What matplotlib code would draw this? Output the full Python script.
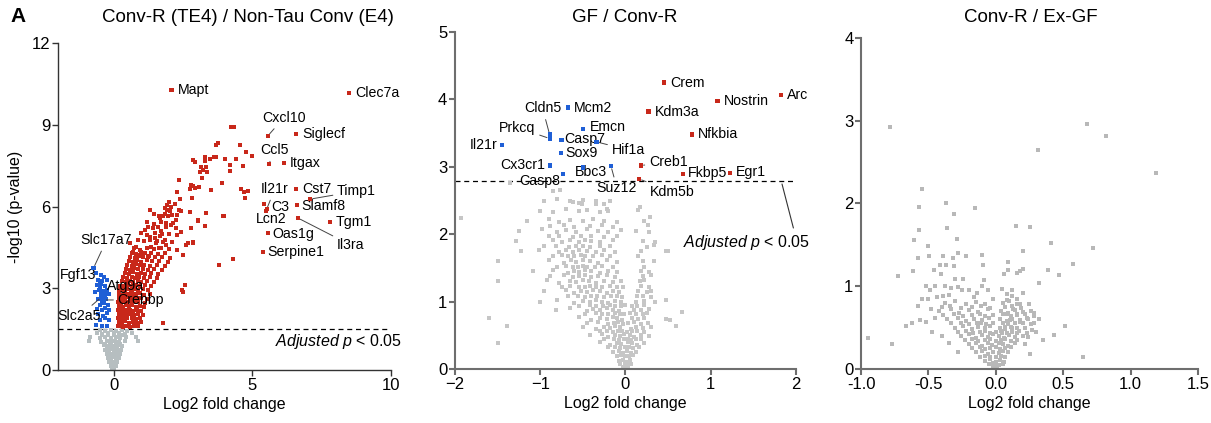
import matplotlib
matplotlib.use("Agg")
import matplotlib.pyplot as plt

plt.rcParams['font.family'] = ['Liberation Sans', 'DejaVu Sans']
plt.rcParams['mathtext.fontset'] = 'custom'
plt.rcParams['mathtext.it'] = 'Liberation Sans:italic'
plt.rcParams['mathtext.rm'] = 'Liberation Sans'

# ---------------- Panel 1 data: Conv-R (TE4) / Non-Tau Conv (E4) ----------------
p1_up_x = [4.25,4.33,3.71,3.75,4.57,4.77,5.0,2.86,2.92,3.29,3.29,3.49,3.61,3.71,4.03,4.42,4.21,4.66,3.14,3.32,
           3.22,3.38,3.13,4.2,3.19,2.36,2.78,2.86,2.92,3.08,2.74,3.5,3.91,4.61,4.7,4.83,4.75,2.27,
           2.84,2.0,1.93,2.08,2.2,1.84,1.93,2.02,2.38,2.35,2.44,1.3,1.66,1.78,1.96,2.26,2.74,3.32,3.04,3.31,3.97,
           2.8,1.12,1.24,1.42,1.6,1.72,1.9,2.08,2.26,2.44,1.3,1.48,1.66,1.78,1.54,1.9,1.36,1.72,0.58,0.82,0.94,
           0.7,0.88,1.06,1.24,2.5,2.62,2.86,3.35,3.94,3.04,3.31,2.45,2.56,2.5,1.77,3.79,4.3,2.67,2.85,
           1.45,1.65,1.85,2.1,2.3,1.2,1.45,1.7,1.9,2.15,1.0,1.2,1.5,1.75,2.0,2.3,0.9,1.1,1.3,1.55,1.85,2.1,
           0.75,0.95,1.2,1.45,1.65,2.0,2.3,
           0.65,0.82,1.0,1.15,1.35,1.6,1.85,0.6,0.78,0.92,1.08,1.28,1.5,1.75,2.05,
           0.55,0.7,0.85,1.0,1.2,1.4,1.65,1.95,0.5,0.65,0.8,0.95,1.1,1.3,1.55,1.85,
           0.45,0.6,0.75,0.9,1.05,1.25,1.45,1.75,0.4,0.55,0.7,0.85,1.0,1.15,1.35,1.6,
           0.35,0.5,0.65,0.78,0.92,1.1,1.3,1.55,0.3,0.45,0.6,0.72,0.88,1.0,1.2,1.45,
           0.22,0.38,0.52,0.68,0.8,0.95,1.15,1.35,0.2,0.35,0.5,0.62,0.75,0.9,1.05,1.25,
           0.18,0.3,0.42,0.55,0.65,0.8,0.95,1.1,1.3,0.2,0.32,0.45,0.58,0.7,0.85,1.0,1.2,
           0.15,0.27,0.4,0.5,0.62,0.78,0.9,1.15,0.2,0.3,0.45,0.55,0.68,0.8,0.95,1.1,
           0.15,0.25,0.35,0.48,0.6,0.72,0.85,1.0,0.18,0.3,0.38,0.52,0.62,0.75,0.88,1.05,
           0.15,0.28,0.42,0.5,0.65,0.8,0.95,0.2,0.3,0.4,0.55,0.7,0.85,1.0,
           0.15,0.25,0.35,0.45,0.6,0.75,0.9]
p1_up_y = [8.93,8.93,8.26,8.33,8.26,8.01,7.85,7.71,7.62,7.83,7.68,7.74,7.81,7.81,7.74,7.73,7.52,7.49,7.46,7.44,
           7.34,7.28,7.25,7.3,7.06,6.97,6.79,6.75,6.67,6.70,6.64,6.6,6.85,6.64,6.54,6.57,6.32,6.54,
           6.3,6.18,6.06,6.0,6.09,5.93,5.87,5.84,6.26,5.87,5.84,5.87,5.57,5.64,5.64,5.5,5.81,5.75,5.5,5.28,5.65,
           5.2,5.14,5.26,5.2,5.26,5.11,5.26,5.32,5.2,5.08,4.89,4.83,4.92,4.71,4.65,4.59,4.53,4.47,4.65,4.53,4.4,
           4.34,4.22,4.28,4.16,4.22,4.59,4.67,5.76,5.66,5.47,5.28,2.94,3.12,2.85,1.72,3.85,4.07,4.65,4.7,
           5.72,5.66,5.74,5.68,5.7,5.42,5.36,5.44,5.38,5.4,5.02,4.96,5.04,4.98,5.0,4.95,4.77,4.72,4.78,4.73,4.76,4.7,
           4.47,4.42,4.48,4.43,4.46,4.44,4.4,
           4.3,4.26,4.32,4.28,4.31,4.27,4.3,4.15,4.12,4.18,4.14,4.17,4.13,4.16,4.12,
           4.0,3.97,4.03,3.98,4.02,3.99,4.01,3.97,3.85,3.82,3.88,3.84,3.87,3.83,3.86,3.82,
           3.7,3.67,3.73,3.69,3.72,3.68,3.71,3.67,3.55,3.52,3.58,3.54,3.57,3.53,3.56,3.52,
           3.4,3.37,3.43,3.39,3.42,3.38,3.41,3.37,3.25,3.22,3.28,3.24,3.27,3.23,3.26,3.22,
           3.1,3.07,3.13,3.09,3.12,3.08,3.11,3.07,2.95,2.92,2.98,2.94,2.97,2.93,2.96,2.92,
           2.8,2.77,2.83,2.79,2.82,2.78,2.81,2.77,2.8,2.65,2.62,2.68,2.64,2.67,2.63,2.66,2.62,
           2.5,2.47,2.53,2.49,2.52,2.48,2.51,2.47,2.35,2.32,2.38,2.34,2.37,2.33,2.36,2.32,
           2.2,2.17,2.23,2.19,2.22,2.18,2.21,2.17,2.05,2.02,2.08,2.04,2.07,2.03,2.06,2.02,
           1.9,1.87,1.93,1.89,1.92,1.88,1.91,1.75,1.72,1.78,1.74,1.77,1.73,1.76,
           1.6,1.62,1.58,1.63,1.59,1.61,1.6]

p1_down_x = [-0.72,-0.62,-0.45,-0.35,-0.55,-0.4,-0.25,-0.6,-0.48,-0.3,-0.52,-0.38,-0.22,-0.65,-0.45,-0.3,-0.18,
             -0.55,-0.4,-0.28,-0.5,-0.35,-0.2,-0.6,-0.42,-0.3,-0.15,-0.55,-0.38,-0.22,-0.48,-0.3,-0.18,-0.62,-0.4,-0.25]
p1_down_y = [3.74,3.55,3.5,3.4,3.3,3.25,3.3,3.12,3.05,3.1,2.95,2.9,2.95,2.85,2.78,2.75,2.8,
             2.6,2.55,2.62,2.4,2.45,2.4,2.25,2.2,2.28,2.2,2.05,2.0,2.08,1.85,1.9,1.82,1.65,1.6,1.62]

p1_ns_x = [-0.5,-0.3,-0.1,0.1,0.3,0.5,-0.6,-0.4,-0.2,0.0,0.2,0.4,0.65,-0.85,-0.5,-0.3,-0.1,0.1,0.25,0.45,0.8,
           -0.9,-0.45,-0.25,-0.1,0.05,0.2,0.4,0.9,-0.35,-0.2,-0.08,0.05,0.15,0.3,-0.3,-0.15,-0.05,0.05,0.15,0.28,
           -0.25,-0.12,0.0,0.1,0.22,-0.2,-0.1,0.0,0.08,0.18,-0.15,-0.05,0.05,0.12,-0.1,0.0,0.08,-0.05,0.03,
           -0.4,-0.2,0.0,0.2,0.35,-0.3,-0.12,0.08,0.22,-0.25,-0.02,0.12,-0.18,0.02,0.18,-0.12,0.03,0.1,-0.06,0.06]
p1_ns_y = [1.45,1.43,1.46,1.44,1.45,1.43,1.35,1.33,1.36,1.34,1.35,1.33,1.36,1.2,1.18,1.21,1.19,1.2,1.18,1.21,1.2,
           1.05,1.03,1.06,1.04,1.05,1.03,1.06,1.05,0.9,0.88,0.91,0.89,0.9,0.88,0.75,0.73,0.76,0.74,0.75,0.73,
           0.6,0.58,0.61,0.59,0.6,0.45,0.43,0.46,0.44,0.45,0.3,0.28,0.31,0.29,0.15,0.13,0.16,0.05,0.04,
           1.28,1.27,1.28,1.26,1.28,0.97,0.98,0.96,0.97,0.82,0.82,0.81,0.67,0.66,0.67,0.52,0.52,0.51,0.22,0.22]

p1_genes = ['Mapt','Clec7a','Cxcl10','Siglecf','Ccl5','Itgax','Il21r','Cst7','Timp1','C3','Slamf8','Lcn2',
            'Tgm1','Il3ra','Oas1g','Serpine1','Slc17a7','Fgf13','Atg9a','Crebbp','Slc2a5']
p1_gene_x = [2.09,8.48,5.56,6.57,5.6,6.14,5.49,6.57,7.08,5.52,6.6,5.42,7.8,6.64,5.56,5.38,-0.72,-0.47,-0.29,-0.36,-0.43]
p1_gene_y = [10.27,10.17,8.59,8.66,7.55,7.6,5.83,6.64,6.27,5.91,6.05,6.09,5.43,5.58,5.03,4.33,3.74,3.16,2.86,2.57,2.68]
p1_gene_dir = ['up']*16 + ['down']*5

# ---------------- Panel 2 data: GF / Conv-R ----------------
p2_genes = ['Crem','Nostrin','Arc','Kdm3a','Nfkbia','Creb1','Fkbp5','Egr1','Kdm5b',
            'Mcm2','Cldn5','Prkcq','Emcn','Casp7','Hif1a','Il21r','Sox9','Cx3cr1','Bbc3','Suz12','Casp8']
p2_gene_x = [0.455,1.08,1.82,0.27,0.78,0.18,0.67,1.23,0.16,
             -0.67,-0.89,-0.89,-0.5,-0.75,-0.34,-1.45,-0.76,-0.89,-0.5,-0.17,-0.73]
p2_gene_y = [4.25,3.98,4.06,3.82,3.48,3.02,2.89,2.91,2.82,
             3.88,3.48,3.42,3.56,3.4,3.37,3.32,3.2,3.02,2.99,3.01,2.89]
p2_gene_dir = ['up']*9 + ['down']*12

p2_ns_x = [-0.95,-0.8,-0.62,-0.5,-0.35,-0.18,
           -1.0,-0.85,-0.7,-0.55,-0.45,-0.3,-0.2,0.15,
           -1.15,-0.9,-0.78,-0.65,-0.5,-0.38,-0.25,-0.1,0.22,
           -1.25,-0.98,-0.8,-0.7,-0.58,-0.45,-0.32,-0.2,-0.05,0.12,0.28,
           -1.28,-0.85,-0.75,-0.65,-0.55,-0.48,-0.4,-0.3,-0.15,0.2,0.35,
           -1.22,-1.02,-0.78,-0.7,-0.62,-0.55,-0.45,-0.35,-0.25,-0.12,0.18,0.5,
           -1.5,-0.9,-0.72,-0.64,-0.58,-0.5,-0.42,-0.32,-0.22,-0.1,0.2,0.33,
           -1.08,-0.85,-0.68,-0.6,-0.55,-0.48,-0.4,-0.3,-0.2,-0.1,0.18,0.28,
           -1.5,-0.92,-0.78,-0.65,-0.58,-0.5,-0.43,-0.35,-0.25,-0.15,-0.05,0.17,0.22,
           -0.95,-0.7,-0.6,-0.52,-0.45,-0.38,-0.3,-0.22,-0.15,-0.08,0.15,0.25,0.3,
           -1.0,-0.8,-0.6,-0.5,-0.42,-0.35,-0.28,-0.2,-0.12,-0.05,0.12,0.22,0.35,0.48,
           -0.82,-0.65,-0.45,-0.38,-0.3,-0.22,-0.15,-0.08,0.1,0.18,0.28,
           -1.6,-0.55,-0.4,-0.3,-0.22,-0.15,-0.1,-0.04,0.08,0.15,0.22,0.48,0.52,
           -1.39,-0.5,-0.35,-0.25,-0.18,-0.12,-0.06,0.06,0.12,0.2,0.3,0.59,
           -0.42,-0.28,-0.2,-0.12,-0.07,-0.02,0.05,0.1,0.18,0.28,
           -1.49,-0.3,-0.18,-0.1,-0.05,0.03,0.08,0.14,0.22,
           -0.15,-0.08,-0.03,0.02,0.06,0.12,
           -0.08,-0.03,0.01,0.05,-0.03,0.0,0.03,
           -1.93,0.66,0.47,0.33,-1.35,-0.85,-0.77,-0.65,-0.55,-0.51,-0.34,-0.25,-0.22,0.17,0.29,0.26]
p2_ns_y = [2.5,2.52,2.48,2.51,2.49,2.5,
           2.35,2.33,2.37,2.34,2.36,2.33,2.35,2.36,
           2.2,2.22,2.18,2.21,2.19,2.22,2.2,2.18,2.2,
           2.05,2.07,2.03,2.06,2.04,2.07,2.05,2.03,2.06,2.05,2.04,
           1.9,1.92,1.88,1.91,1.89,1.92,1.9,1.88,1.91,1.9,1.89,
           1.75,1.77,1.73,1.76,1.74,1.77,1.75,1.73,1.76,1.74,1.75,1.75,
           1.6,1.62,1.58,1.61,1.59,1.62,1.6,1.58,1.61,1.59,1.6,1.6,
           1.45,1.47,1.43,1.46,1.44,1.47,1.45,1.43,1.46,1.44,1.45,1.44,
           1.3,1.32,1.28,1.31,1.29,1.32,1.3,1.28,1.31,1.29,1.3,1.3,1.32,
           1.15,1.17,1.13,1.16,1.14,1.17,1.15,1.13,1.16,1.14,1.15,1.14,1.16,
           1.0,1.02,0.98,1.01,0.99,1.02,1.0,0.98,1.01,0.99,1.0,1.01,0.99,1.02,
           0.88,0.9,0.86,0.89,0.87,0.9,0.88,0.86,0.88,0.87,0.89,
           0.75,0.77,0.73,0.76,0.74,0.77,0.75,0.73,0.76,0.74,0.75,0.74,0.72,
           0.64,0.62,0.6,0.63,0.61,0.64,0.62,0.6,0.63,0.61,0.62,0.64,
           0.5,0.52,0.48,0.51,0.49,0.52,0.5,0.48,0.51,0.49,
           0.38,0.4,0.36,0.39,0.37,0.4,0.38,0.36,0.39,
           0.25,0.27,0.23,0.26,0.24,0.25,
           0.12,0.14,0.1,0.13,0.03,0.04,0.03,
           2.24,0.84,1.75,1.84,2.76,2.64,2.66,2.5,2.47,2.45,2.45,2.45,2.38,2.41,2.25,2.13]

# denser core of the GF / Conv-R cloud
p2_core_x = [-0.88,-0.72,-0.6,-0.42,-0.28,-0.15,
             -0.9,-0.78,-0.62,-0.52,-0.4,-0.25,-0.1,
             -0.95,-0.82,-0.66,-0.58,-0.5,-0.42,-0.3,-0.18,0.25,
             -0.85,-0.75,-0.67,-0.6,-0.52,-0.47,-0.38,-0.28,-0.18,0.15,
             -0.8,-0.7,-0.62,-0.56,-0.5,-0.45,-0.36,-0.27,-0.15,0.22,
             -0.88,-0.72,-0.62,-0.55,-0.47,-0.4,-0.32,-0.22,-0.12,0.2,0.3,
             -0.75,-0.65,-0.55,-0.48,-0.42,-0.34,-0.27,-0.18,-0.1,-0.03,0.18,0.27,
             -0.68,-0.56,-0.47,-0.4,-0.33,-0.25,-0.17,-0.1,-0.04,0.14,0.2,0.3,
             -0.55,-0.42,-0.34,-0.26,-0.18,-0.12,-0.05,0.0,0.08,0.14,0.22,
             -0.48,-0.35,-0.27,-0.2,-0.12,-0.07,-0.02,0.05,0.12,0.2,0.25,
             -0.45,-0.32,-0.2,-0.14,-0.09,-0.03,0.03,0.1,0.18,0.26,
             -0.3,-0.22,-0.15,-0.09,-0.04,0.02,0.08,0.14,0.22,
             -0.25,-0.14,-0.08,-0.02,0.03,0.06,0.12,0.18,
             -0.2,-0.12,-0.06,-0.01,0.04,0.09,0.16,
             -0.1,-0.05,0.0,0.04,0.09,
             -0.06,-0.01,0.02,0.06]
p2_core_y = [2.12,2.13,2.11,2.12,2.13,2.11,
             1.97,1.98,1.96,1.97,1.98,1.96,1.97,
             1.82,1.83,1.81,1.82,1.83,1.81,1.82,1.83,1.81,
             1.68,1.69,1.67,1.68,1.69,1.67,1.68,1.69,1.67,1.68,
             1.52,1.53,1.51,1.52,1.53,1.51,1.52,1.53,1.51,1.52,
             1.38,1.39,1.37,1.38,1.39,1.37,1.38,1.39,1.37,1.38,1.39,
             1.22,1.23,1.21,1.22,1.23,1.21,1.22,1.23,1.21,1.22,1.23,1.21,
             1.08,1.09,1.07,1.08,1.09,1.07,1.08,1.09,1.07,1.08,1.09,1.07,
             0.94,0.95,0.93,0.94,0.95,0.93,0.94,0.95,0.93,0.94,0.95,
             0.82,0.83,0.81,0.82,0.83,0.81,0.82,0.83,0.81,0.82,0.83,
             0.68,0.69,0.67,0.68,0.69,0.67,0.68,0.69,0.67,0.68,
             0.56,0.57,0.55,0.56,0.57,0.55,0.56,0.57,0.55,
             0.44,0.45,0.43,0.44,0.45,0.43,0.44,0.45,
             0.32,0.33,0.31,0.32,0.33,0.31,0.32,
             0.2,0.21,0.19,0.2,0.21,
             0.08,0.09,0.07,0.08]

# ---------------- Panel 3 data: Conv-R / Ex-GF ----------------
p3_x = [-0.785,0.674,0.82,0.31,1.19,-0.545,-0.372,-0.57,-0.154,-0.31,-0.57,-0.36,0.147,0.25,-0.61,-0.29,-0.5,
        0.41,0.72,0.2,-0.278,-0.224,-0.105,-0.575,-0.496,-0.394,-0.369,-0.414,-0.456,-0.315,-0.31,-0.092,0.088,
        0.088,0.18,0.2,0.155,0.39,0.57,0.47,-0.727,-0.616,0.323,0.06,0.245,0.28,0.32,0.27,0.24,0.43,0.51,0.65,
        -0.95,-0.77,-0.67,-0.58,-0.56,-0.52,
        -0.52,-0.49,-0.5,-0.45,-0.44,-0.38,-0.39,-0.41,-0.30,-0.28,-0.24,-0.25,-0.10,-0.09,-0.14,-0.16,
        0.044,0.081,0.118,0.081,0.155,0.18,0.13,0.056,0.093,0.155,0.105,0.18,0.068,0.118,0.044,0.155,
        -0.38,-0.3,-0.22,-0.15,-0.08,0.05,0.1,0.16,
        -0.42,-0.33,-0.27,-0.2,-0.13,-0.06,0.04,0.09,0.14,0.2,0.26,
        -0.36,-0.28,-0.22,-0.16,-0.1,-0.05,0.03,0.08,0.12,0.18,0.24,
        -0.3,-0.24,-0.18,-0.13,-0.08,-0.04,0.03,0.07,0.11,0.16,0.22,
        -0.26,-0.2,-0.15,-0.1,-0.06,-0.02,0.02,0.06,0.1,0.14,0.2,
        -0.2,-0.15,-0.1,-0.06,-0.03,0.02,0.05,0.09,0.14,
        -0.15,-0.1,-0.06,-0.02,0.02,0.05,0.09,
        -0.08,-0.04,0.0,0.03,0.06,-0.02,0.01]
p3_y = [2.92,2.96,2.81,2.65,2.37,2.17,2.01,1.96,1.94,1.87,1.68,1.7,1.73,1.72,1.56,1.57,1.49,
        1.52,1.46,1.42,1.40,1.36,1.38,1.34,1.36,1.37,1.26,1.26,1.2,1.34,1.24,1.26,1.29,
        1.2,1.19,1.21,1.16,1.2,1.27,1.13,1.12,1.18,1.04,1.15,0.78,0.68,0.6,0.47,0.39,0.41,0.52,0.14,
        0.38,0.3,0.52,0.76,0.59,0.57,
        1.0,0.95,0.84,1.0,0.87,1.0,0.88,1.15,1.09,0.99,1.09,0.95,1.0,1.07,0.92,0.87,
        0.97,0.91,0.95,0.83,0.85,0.79,0.73,0.67,0.67,0.67,0.59,0.57,0.51,0.49,0.43,0.43,
        0.8,0.82,0.78,0.81,0.79,0.8,0.82,0.78,
        0.7,0.72,0.68,0.71,0.69,0.72,0.7,0.68,0.71,0.69,0.7,
        0.6,0.62,0.58,0.61,0.59,0.62,0.6,0.58,0.61,0.59,0.6,
        0.5,0.52,0.48,0.51,0.49,0.52,0.5,0.48,0.51,0.49,0.5,
        0.4,0.42,0.38,0.41,0.39,0.42,0.4,0.38,0.41,0.39,0.4,
        0.3,0.32,0.28,0.31,0.29,0.32,0.3,0.28,0.31,
        0.2,0.22,0.18,0.21,0.19,0.22,0.2,
        0.1,0.12,0.08,0.11,0.09,0.03,0.04]

# denser core of the Conv-R / Ex-GF cloud
p3_core_x = [-0.4,-0.34,-0.26,-0.18,-0.11,-0.04,0.07,0.12,0.19,
             -0.39,-0.31,-0.24,-0.18,-0.12,-0.08,-0.02,0.06,0.11,0.16,0.22,0.28,
             -0.33,-0.26,-0.2,-0.14,-0.11,-0.07,-0.02,0.05,0.09,0.14,0.2,0.26,
             -0.28,-0.22,-0.17,-0.12,-0.08,-0.04,0.0,0.04,0.08,0.12,0.17,0.23,
             -0.23,-0.18,-0.13,-0.08,-0.04,0.0,0.04,0.07,0.11,0.16,
             -0.18,-0.12,-0.08,-0.04,0.0,0.03,0.07,0.11,
             -0.12,-0.08,-0.04,0.0,0.04,0.07,
             -0.05,-0.02,0.02,0.05,
             -0.62,-0.48,-0.45,-0.35,-0.33,-0.2,-0.06,-0.02,0.12,0.2,0.23,0.28,0.3,0.35,0.22,0.25,
             -0.55,-0.47,-0.4,-0.35,-0.28]
p3_core_y = [0.75,0.76,0.74,0.75,0.76,0.74,0.75,0.76,0.74,
             0.65,0.66,0.64,0.65,0.66,0.64,0.65,0.66,0.64,0.65,0.66,0.64,
             0.55,0.56,0.54,0.55,0.56,0.54,0.55,0.56,0.54,0.55,0.56,0.54,
             0.45,0.46,0.44,0.45,0.46,0.44,0.45,0.46,0.44,0.45,0.46,0.44,
             0.35,0.36,0.34,0.35,0.36,0.34,0.35,0.36,0.34,0.35,
             0.25,0.26,0.24,0.25,0.26,0.24,0.25,0.26,
             0.15,0.16,0.14,0.15,0.16,0.14,
             0.06,0.07,0.05,0.06,
             0.55,0.72,0.62,0.9,0.98,0.95,0.95,0.85,0.88,0.92,0.62,0.55,0.45,0.35,0.3,0.18,
             0.85,0.45,0.4,0.32,0.2]

p1_threshold = 1.5
p2_threshold = 2.79

# label placement (offsets in pixels from the point, ha, draw leader line)
p1_label_layout = {
    'Mapt': (6, 0, 'left', False), 'Clec7a': (6, 0, 'left', False),
    'Cxcl10': (-6, 18, 'left', True), 'Siglecf': (6, 0, 'left', False),
    'Ccl5': (-9, 14, 'left', True), 'Itgax': (6, 0, 'left', False),
    'Il21r': (-5, 22, 'left', True), 'Cst7': (6, 0, 'left', False),
    'Timp1': (27, 8, 'left', True), 'C3': (5, 2, 'left', False),
    'Slamf8': (5, -1, 'left', False), 'Lcn2': (-8, -15, 'left', False),
    'Tgm1': (6, 0, 'left', False), 'Il3ra': (39, -27, 'left', True),
    'Oas1g': (5, -1, 'left', False), 'Serpine1': (5, 0, 'left', False),
    'Slc17a7': (13, 28, 'center', True), 'Fgf13': (-4, 9, 'right', True),
    'Atg9a': (2, 6, 'left', False), 'Crebbp': (14, 0, 'left', True),
    'Slc2a5': (-22, -19, 'center', True),
}
p2_label_layout = {
    'Crem': (6, 0, 'left', False), 'Nostrin': (6, 0, 'left', False), 'Arc': (6, 0, 'left', False),
    'Kdm3a': (6, 0, 'left', False), 'Nfkbia': (6, 0, 'left', False), 'Creb1': (8, 3, 'left', True),
    'Fkbp5': (5, 1, 'left', False), 'Egr1': (6, 1, 'left', False), 'Kdm5b': (11, -13, 'left', True),
    'Mcm2': (6, 0, 'left', False), 'Cldn5': (-7, 26, 'center', True), 'Prkcq': (-14, 11, 'right', True),
    'Emcn': (7, 2, 'left', False), 'Casp7': (3, 1, 'left', False), 'Hif1a': (15, -8, 'left', True),
    'Il21r': (-4, 0, 'right', False), 'Sox9': (5, 0, 'left', False), 'Cx3cr1': (-4, 0, 'right', False),
    'Bbc3': (8, -5, 'center', False), 'Suz12': (6, -22, 'center', True), 'Casp8': (-3, -7, 'right', True),
}

RED = '#C8281A'
BLUE = '#1F5FD6'
GRAY1 = '#B6BEC0'
GRAY2 = '#C6C6C6'
GRAY3 = '#B8B8B8'
MS = 9
LBL = 10.2
TICK = 12

fig = plt.figure(figsize=(12.11, 4.23), dpi=100)
ax1 = fig.add_axes([0.0479, 0.1253, 0.2750, 0.7730])
ax2 = fig.add_axes([0.3757, 0.1277, 0.2816, 0.7966])
ax3 = fig.add_axes([0.7110, 0.1277, 0.2783, 0.7825])


def style(ax, color, lw):
    for s in ['top', 'right']:
        ax.spines[s].set_visible(False)
    for s in ['left', 'bottom']:
        ax.spines[s].set_color(color)
        ax.spines[s].set_linewidth(lw)
    ax.tick_params(direction='out', length=4, width=lw, color=color, labelsize=TICK, pad=1.5)
    ax.set_xlabel('Log2 fold change', fontsize=11.5, labelpad=3)


def px2pt(v):
    return v * 0.72


def label_points(ax, genes, gx, gy, layout):
    for g, x, y in zip(genes, gx, gy):
        dx, dy, ha, line = layout[g]
        kw = {}
        if line:
            kw['arrowprops'] = dict(arrowstyle='-', color='#444444', lw=0.7, shrinkA=1, shrinkB=2)
        ax.annotate(g, xy=(x, y), xytext=(px2pt(dx), px2pt(dy)), textcoords='offset points',
                    ha=ha, va='center', fontsize=LBL, color='black', annotation_clip=False, **kw)


# Panel 1
ax1.scatter(p1_ns_x, p1_ns_y, s=MS, c=GRAY1, marker='s', linewidths=0, zorder=2)
ax1.scatter(p1_up_x, p1_up_y, s=MS, c=RED, marker='s', linewidths=0, zorder=3)
ax1.scatter(p1_down_x, p1_down_y, s=MS, c=BLUE, marker='s', linewidths=0, zorder=3)
ax1.scatter(p1_gene_x, p1_gene_y, s=MS, marker='s', linewidths=0, zorder=4,
            c=[RED if d == 'up' else BLUE for d in p1_gene_dir])
ax1.axhline(p1_threshold, color='black', lw=0.9, ls=(0, (4, 3)), zorder=1)
label_points(ax1, p1_genes, p1_gene_x, p1_gene_y, p1_label_layout)
ax1.set_xlim(-2, 10)
ax1.set_ylim(0, 12)
ax1.set_xticks([0, 5, 10])
ax1.set_yticks([0, 3, 6, 9, 12])
style(ax1, '#333333', 1.0)
ax1.set_ylabel('-log10 (p-value)', fontsize=11.5, labelpad=6)
ax1.text(10.4, 1.03, r'$\mathit{Adjusted\ p}$ < 0.05', ha='right', va='center', fontsize=11.5, clip_on=False)

# Panel 2
ax2.scatter(p2_ns_x, p2_ns_y, s=MS, c=GRAY2, marker='s', linewidths=0, zorder=2)
ax2.scatter(p2_core_x, p2_core_y, s=MS, c=GRAY2, marker='s', linewidths=0, zorder=2)
ax2.scatter(p2_gene_x, p2_gene_y, s=MS, marker='s', linewidths=0, zorder=4,
            c=[RED if d == 'up' else BLUE for d in p2_gene_dir])
ax2.axhline(p2_threshold, color='black', lw=0.9, ls=(0, (4, 3)), zorder=1)
label_points(ax2, p2_genes, p2_gene_x, p2_gene_y, p2_label_layout)
ax2.annotate(r'$\mathit{Adjusted\ p}$ < 0.05', xy=(1.836, 2.745), xytext=(0.674, 1.87),
             textcoords='data', ha='left', va='center', fontsize=11.5, annotation_clip=False,
             arrowprops=dict(arrowstyle='-', color='#333333', lw=0.8, relpos=(0.88, 1.0),
                             shrinkA=2, shrinkB=0))
ax2.set_xlim(-2, 2)
ax2.set_ylim(0, 5)
ax2.set_xticks([-2, -1, 0, 1, 2])
ax2.set_yticks([0, 1, 2, 3, 4, 5])
style(ax2, '#6E6E6E', 1.5)

# Panel 3
ax3.scatter(p3_x, p3_y, s=MS, c=GRAY3, marker='s', linewidths=0, zorder=2)
ax3.scatter(p3_core_x, p3_core_y, s=MS, c=GRAY3, marker='s', linewidths=0, zorder=2)
ax3.set_xlim(-1.0, 1.5)
ax3.set_ylim(0, 4)
ax3.set_xticks([-1.0, -0.5, 0.0, 0.5, 1.0, 1.5])
ax3.set_xticklabels(['-1.0', '-0.5', '0.0', '0.5', '1.0', '1.5'])
ax3.set_yticks([0, 1, 2, 3, 4])
style(ax3, '#6E6E6E', 1.5)

# titles
fig.text(248 / 1211, 1 - 18 / 423, 'Conv-R (TE4) / Non-Tau Conv (E4)', ha='center', va='center', fontsize=13.5)
fig.text(625 / 1211, 1 - 18 / 423, 'GF / Conv-R', ha='center', va='center', fontsize=13.5)
fig.text(1031 / 1211, 1 - 18 / 423, 'Conv-R / Ex-GF', ha='center', va='center', fontsize=13.5)
fig.text(10 / 1211, 1 - 17 / 423, 'A', ha='left', va='center', fontsize=15, fontweight='bold')

fig.savefig('out.png', dpi=100)
